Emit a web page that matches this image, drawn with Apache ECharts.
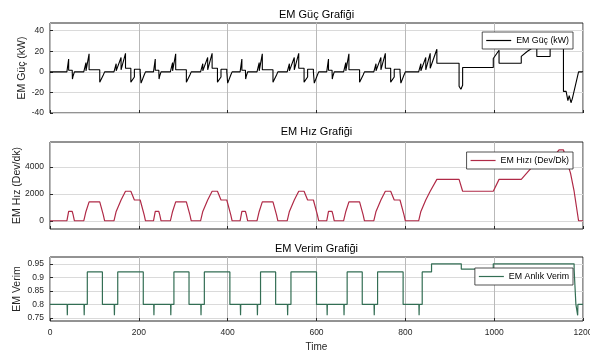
<!DOCTYPE html>
<html>
<head>
<meta charset="utf-8">
<script src="https://cdn.jsdelivr.net/npm/echarts@6/dist/echarts.min.js"></script>
<style>
  html, body { margin: 0; padding: 0; background: #fff; }
  #chart { width: 590px; height: 352px; }
</style>
</head>
<body>
<div id="chart"></div>
<script>
// ---- Data (NEDC drive cycle simulation) ----
// x tick labels
const xTicks = [0, 200, 400, 600, 800, 1000, 1200];
const powerTicks = [-40, -20, 0, 20, 40];
const speedTicks = [0, 2000, 4000];
const effTicks = [0.75, 0.8, 0.85, 0.9, 0.95];

// start times (s) of the four repeated urban (ECE) cycles and the extra-urban part
const eceStarts = [27, 222, 417, 612];
const eudcStart = 810;

// One urban cycle: [time within cycle (s), motor speed (rpm)]
const eceSpeed = [[0,0],[11,0],[15,690],[23,690],[25,460],[28,0],[49,0],[54,690],[56,690],[61,1400],
  [85,1400],[93,440],[96,0],[117,0],[122,690],[124,690],[133,1540],[135,1540],[143,2190],[155,2190],
  [163,1540],[176,1540],[178,1540],[185,440],[188,0],[195,0]];
// Extra-urban part: [time within part (s), rpm]
const eudcSpeed = [[0,0],[20,0],[25,690],[27,690],[36,1540],[38,1540],[46,2190],[48,2190],[61,3070],
  [111,3070],[119,2190],[188,2190],[201,3070],[251,3070],[286,4390],[316,4390],[336,5250],[346,5250],
  [362,3510],[370,2190],[380,0],[390,0]];

// One urban cycle: [time (s), power (kW)]
const ecePower = [[0,0],[11,0],[15,12.5],[15,1.5],[23,1.5],[23.5,-7],[25,-4],[28,0],
  [49,0],[54,9],[54,1],[56,1],[61,17.5],[61,2],[85,2],[85,-10],[93,-3],[96,0],
  [117,0],[122,8],[122,1],[124,1],[133,14],[133,2],[135,2],[143,18],[143,3.5],[155,3.5],
  [155,-10],[163,-5],[163,2.5],[176,2.5],[176,0],[178,0],[178,-11],[185,-3],[188,0],[195,0]];
const eudcPower = [[0,0],[20,0],[25,8],[25,1],[27,1],[36,14],[36,2],[38,2],[46,18],[46,3.5],[48,3.5],
  [61,22],[61,8.3],[111,8.3],[111,-14],[115,-17],[119,-13],[119,4.3],[188,4.3],[188,13],[201,21],
  [201,8.3],[251,8.3],[251,15],[265,20],[286,26],[286,15],[316,15],[316,28],[336,34],[336,26],
  [346,26],[346,-19],[352,-19],[356,-28],[359,-23],[363,-30],[366,-26],[380,0],[390,0]];

// One urban cycle: [time (s), efficiency]
const eceEff = [[0,0.8],[11.5,0.8],[12,0.76],[12.5,0.8],[49.5,0.8],[50,0.76],[50.5,0.8],[57,0.8],[57,0.92],
  [91,0.92],[91,0.8],[117.5,0.8],[118,0.76],[118.5,0.8],[125.5,0.8],[125.5,0.92],[183,0.92],[183,0.8],[195,0.8]];
const eudcEff = [[0,0.8],[20.5,0.8],[21,0.76],[21.5,0.8],[28,0.8],[28,0.92],[49,0.92],[49,0.95],[116,0.95],
  [116,0.93],[188,0.93],[188,0.95],[370,0.95],[370,0.93],[374,0.93],[374,0.8],[377.5,0.8],[378,0.76],
  [378.5,0.8],[390,0.8]];

const leadPower = 0, leadSpeed = 0, leadEff = 0.8;

function build(ece, eudc, lead) {
  const out = [[0, lead]];
  eceStarts.forEach(c => ece.forEach(p => out.push([c + p[0], p[1]])));
  eudc.forEach(p => out.push([eudcStart + p[0], p[1]]));
  return out;
}

const powerData = build(ecePower, eudcPower, leadPower);
const speedData = build(eceSpeed, eudcSpeed, leadSpeed);
const effData = build(eceEff, eudcEff, leadEff);

// ---- Chart ----
const chart = echarts.init(document.getElementById('chart'), null, { renderer: 'canvas' });
const axisColor = '#262626';
const font = 'Liberation Sans, Arial, Helvetica, sans-serif';
const plain = v => String(v);

const grids = [
  { left: 50, top: 23, width: 533, height: 90 },
  { left: 50, top: 142, width: 533, height: 87 },
  { left: 50, top: 257, width: 533, height: 64 }
].map(g => Object.assign(g, { show: true, borderColor: axisColor, borderWidth: 1, backgroundColor: '#fff',
  containLabel: false, outerBoundsMode: 'none' }));

function xAxis(i, showLabels) {
  return {
    type: 'value', gridIndex: i, min: 0, max: 1200, interval: 200,
    axisLine: { show: false, onZero: false },
    axisTick: { show: true, inside: true, length: 3, customValues: xTicks, lineStyle: { color: axisColor } },
    axisLabel: { show: showLabels, color: axisColor, fontSize: 8.5, fontFamily: font, margin: 7,
      customValues: xTicks, formatter: plain },
    splitLine: { show: true, lineStyle: { color: '#b9b9b9', width: 1 } },
    name: showLabels ? 'Time' : '', nameLocation: 'middle', nameGap: 21, nameMoveOverlap: false,
    nameTextStyle: { color: axisColor, fontSize: 10, fontFamily: font }
  };
}
function yAxis(i, min, max, ticks, name, gap) {
  return {
    type: 'value', gridIndex: i, min: min, max: max,
    axisLine: { show: false, onZero: false },
    axisTick: { show: true, inside: true, length: 3, customValues: ticks, lineStyle: { color: axisColor } },
    axisLabel: { color: axisColor, fontSize: 8.5, fontFamily: font, margin: 6, customValues: ticks, formatter: plain },
    splitLine: { show: true, lineStyle: { color: '#dadada', width: 1 } },
    name: name, nameLocation: 'middle', nameRotate: 90, nameGap: gap, nameMoveOverlap: false,
    nameTextStyle: { color: axisColor, fontSize: 10.5, fontFamily: font }
  };
}

function title(text, top) {
  return { text: text, left: 316.5, textAlign: 'center', top: top, padding: 0,
    textStyle: { fontSize: 11, fontWeight: 'normal', color: '#000', fontFamily: font } };
}
function legend(name, top) {
  return {
    data: [{ name: name, icon: 'rect' }], right: 17, top: top, orient: 'horizontal',
    backgroundColor: '#fff', borderColor: axisColor, borderWidth: 0.8,
    padding: [4, 4, 4, 4], itemWidth: 25, itemHeight: 1.2, itemGap: 5,
    textStyle: { fontSize: 8.8, color: '#000', fontFamily: font }
  };
}

const option = {
  animation: false,
  backgroundColor: '#fff',
  title: [title('EM Güç Grafiği', 9), title('EM Hız Grafiği', 126), title('EM Verim Grafiği', 243)],
  legend: [legend('EM Güç (kW)', 32), legend('EM Hızı (Dev/Dk)', 152), legend('EM Anlık Verim', 268)],
  grid: grids,
  xAxis: [xAxis(0, false), xAxis(1, false), xAxis(2, true)],
  yAxis: [
    yAxis(0, -40, 47.5, powerTicks, 'EM Güç (kW)', 22),
    yAxis(1, -610, 5840, speedTicks, 'EM Hız (Dev/dk)', 27),
    yAxis(2, 0.739, 0.975, effTicks, 'EM Verim', 27)
  ],
  series: [
    { name: 'EM Güç (kW)', type: 'line', xAxisIndex: 0, yAxisIndex: 0, data: powerData,
      symbol: 'none', showSymbol: false, lineStyle: { color: '#000', width: 1.1 }, itemStyle: { color: '#000' } },
    { name: 'EM Hızı (Dev/Dk)', type: 'line', xAxisIndex: 1, yAxisIndex: 1, data: speedData,
      symbol: 'none', showSymbol: false, lineStyle: { color: '#b02a47', width: 1.2 }, itemStyle: { color: '#b02a47' } },
    { name: 'EM Anlık Verim', type: 'line', xAxisIndex: 2, yAxisIndex: 2, data: effData,
      symbol: 'none', showSymbol: false, lineStyle: { color: '#336e54', width: 1.2 }, itemStyle: { color: '#336e54' } }
  ]
};
chart.setOption(option);
</script>
</body>
</html>
